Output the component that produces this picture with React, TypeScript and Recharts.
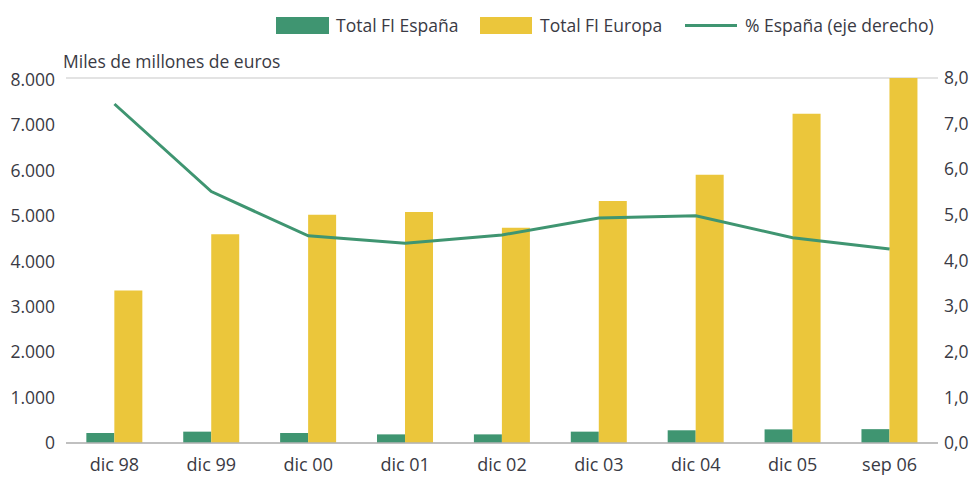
import React from 'react';
import { ComposedChart, Bar, Line, XAxis, YAxis, CartesianGrid } from 'recharts';

const categories = ['dic 98', 'dic 99', 'dic 00', 'dic 01', 'dic 02', 'dic 03', 'dic 04', 'dic 05', 'sep 06'];
const totalEspana = [220, 250, 220, 190, 190, 250, 280, 300, 305];
const totalEuropa = [3360, 4600, 5030, 5090, 4740, 5330, 5910, 7250, 8040];
const pctEspana = [7.43, 5.51, 4.54, 4.38, 4.56, 4.93, 4.98, 4.5, 4.25];
const leftTicks = [0, 1000, 2000, 3000, 4000, 5000, 6000, 7000, 8000];
const rightTicks = [0, 1, 2, 3, 4, 5, 6, 7, 8];
const seriesNames = ['Total FI España', 'Total FI Europa', '% España (eje derecho)'];

const data = categories.map((c, i) => ({
  cat: c,
  es: totalEspana[i],
  eu: totalEuropa[i],
  pct: pctEspana[i],
}));

const GREEN = '#3f9571';
const YELLOW = '#ebc63b';
const LINE = '#3f9571';
const TEXT = '#3a3a44';
const FONT = '"Open Sans", "Noto Sans", sans-serif';
const FS = 17.5;

const fmtLeft = (v: number) => (v === 0 ? '0' : v.toLocaleString('de-DE'));
const fmtRight = (v: number) => v.toFixed(1).replace('.', ',');

const LegendOverlay = () => (
  <div style={{ position: 'absolute', left: 0, top: 12, width: 970, height: 30, fontFamily: FONT, fontSize: FS, color: TEXT, pointerEvents: 'none' }}>
    <div style={{ position: 'absolute', left: 276, top: 5, width: 53, height: 17, background: GREEN }} />
    <div style={{ position: 'absolute', left: 336, top: 0, lineHeight: '26px', whiteSpace: 'nowrap' }}>{seriesNames[0]}</div>
    <div style={{ position: 'absolute', left: 480, top: 5, width: 52, height: 17, background: YELLOW }} />
    <div style={{ position: 'absolute', left: 540, top: 0, lineHeight: '26px', whiteSpace: 'nowrap' }}>{seriesNames[1]}</div>
    <div style={{ position: 'absolute', left: 685, top: 12, width: 52, height: 3, background: LINE }} />
    <div style={{ position: 'absolute', left: 745, top: 0, lineHeight: '26px', whiteSpace: 'nowrap' }}>{seriesNames[2]}</div>
  </div>
);

export default function App() {
  return (
    <div style={{ position: 'absolute', left: 0, top: 0, width: 970, height: 477, background: '#fff' }}>
      <ComposedChart
        width={970}
        height={477}
        data={data}
        margin={{ top: 78, right: 0, left: 0, bottom: 0 }}
        barCategoryGap="21%"
        barGap={0}
      >
        <CartesianGrid vertical={false} stroke="#c8c8c8" strokeWidth={1.2} />
        <XAxis
          dataKey="cat"
          height={34}
          tickSize={0}
          tickMargin={15}
          axisLine={{ stroke: '#b4b4b4', strokeWidth: 1.5 }}
          tick={{ fill: TEXT, fontSize: 18, fontFamily: FONT }}
        />
        <YAxis
          yAxisId="left"
          width={66}
          domain={[0, 8000]}
          ticks={leftTicks}
          tickFormatter={fmtLeft}
          tickSize={0}
          tickMargin={11}
          axisLine={false}
          tick={{ fill: TEXT, fontSize: FS, fontFamily: FONT }}
        />
        <YAxis
          yAxisId="right"
          orientation="right"
          width={32}
          domain={[0, 8]}
          ticks={rightTicks}
          tickFormatter={fmtRight}
          tickSize={0}
          tickMargin={6}
          axisLine={false}
          tick={{ fill: TEXT, fontSize: FS, fontFamily: FONT, textAnchor: 'start' }}
        />
        <Bar yAxisId="left" dataKey="es" name={seriesNames[0]} fill={GREEN} isAnimationActive={false} />
        <Bar yAxisId="left" dataKey="eu" name={seriesNames[1]} fill={YELLOW} isAnimationActive={false} />
        <Line
          yAxisId="right"
          dataKey="pct"
          name={seriesNames[2]}
          stroke={LINE}
          strokeWidth={3}
          dot={false}
          type="linear"
          isAnimationActive={false}
        />
        <text x={63} y={68} fill={TEXT} fontSize={FS} fontFamily={FONT}>Miles de millones de euros</text>
      </ComposedChart>
      <LegendOverlay />
    </div>
  );
}
